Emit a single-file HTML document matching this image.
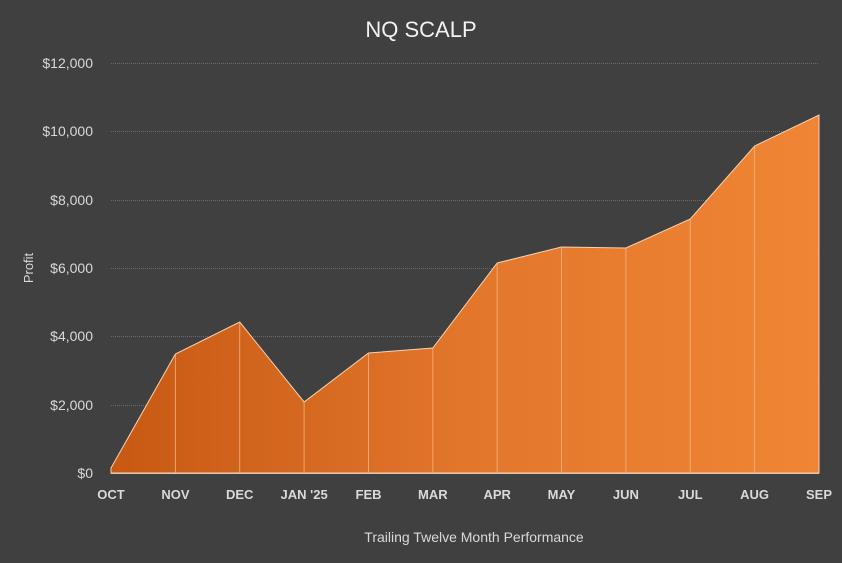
<!DOCTYPE html>
<html><head><meta charset="utf-8"><style>
html,body{margin:0;padding:0;background:#404040;}
svg{display:block;font-family:"Liberation Sans",sans-serif;}
</style></head><body>
<svg width="842" height="563" viewBox="0 0 842 563" xmlns="http://www.w3.org/2000/svg">
<defs>
<linearGradient id="g" x1="0" y1="0" x2="1" y2="0">
<stop offset="0" stop-color="#c75913"/>
<stop offset="0.5" stop-color="#e2762b"/>
<stop offset="1" stop-color="#f08535"/>
</linearGradient>
</defs>
<rect width="842" height="563" fill="#404040"/>
<text x="421" y="37" text-anchor="middle" font-size="22" fill="#f2f2f2">NQ SCALP</text>
<g stroke="#6a6a6a" stroke-width="1" stroke-dasharray="1,1">
<line x1="111" x2="819" y1="63.5" y2="63.5"/>
<line x1="111" x2="819" y1="131.5" y2="131.5"/>
<line x1="111" x2="819" y1="200.5" y2="200.5"/>
<line x1="111" x2="819" y1="268.5" y2="268.5"/>
<line x1="111" x2="819" y1="336.5" y2="336.5"/>
<line x1="111" x2="819" y1="405.5" y2="405.5"/>
</g>
<g font-size="14" fill="#d9d9d9" text-anchor="end">
<text x="93" y="68">$12,000</text>
<text x="93" y="136">$10,000</text>
<text x="93" y="205">$8,000</text>
<text x="93" y="273">$6,000</text>
<text x="93" y="341">$4,000</text>
<text x="93" y="410">$2,000</text>
<text x="93" y="478">$0</text>
</g>
<polygon fill="url(#g)" stroke="#f7d2b0" stroke-width="1" points="111,473 111,468 175.4,354 239.7,322 304.1,402 368.5,353 432.8,348 497.2,263 561.5,247 625.9,248 690.3,219 754.6,146 819,115 819,473"/>
<g stroke="#f5b482" stroke-width="1" opacity="0.8">
<line x1="175.4" y1="354" x2="175.4" y2="473"/>
<line x1="239.7" y1="322" x2="239.7" y2="473"/>
<line x1="304.1" y1="402" x2="304.1" y2="473"/>
<line x1="368.5" y1="353" x2="368.5" y2="473"/>
<line x1="432.8" y1="348" x2="432.8" y2="473"/>
<line x1="497.2" y1="263" x2="497.2" y2="473"/>
<line x1="561.5" y1="247" x2="561.5" y2="473"/>
<line x1="625.9" y1="248" x2="625.9" y2="473"/>
<line x1="690.3" y1="219" x2="690.3" y2="473"/>
<line x1="754.6" y1="146" x2="754.6" y2="473"/>
</g>
<line x1="111" x2="819" y1="473.5" y2="473.5" stroke="#d9c6b6" stroke-width="1"/>
<g font-size="13" font-weight="bold" fill="#d9d9d9" text-anchor="middle">
<text x="111" y="499">OCT</text>
<text x="175.4" y="499">NOV</text>
<text x="239.7" y="499">DEC</text>
<text x="304.1" y="499">JAN '25</text>
<text x="368.5" y="499">FEB</text>
<text x="432.8" y="499">MAR</text>
<text x="497.2" y="499">APR</text>
<text x="561.5" y="499">MAY</text>
<text x="625.9" y="499">JUN</text>
<text x="690.3" y="499">JUL</text>
<text x="754.6" y="499">AUG</text>
<text x="819" y="499">SEP</text>
</g>
<text x="474" y="542" text-anchor="middle" font-size="14" fill="#d9d9d9">Trailing Twelve Month Performance</text>
<text transform="translate(33,268) rotate(-90)" text-anchor="middle" font-size="13" fill="#d9d9d9">Profit</text>
</svg>
</body></html>
